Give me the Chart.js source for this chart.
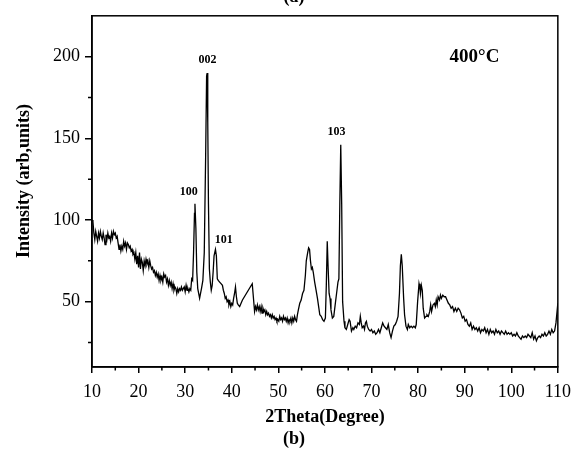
<!DOCTYPE html>
<html>
<head>
<meta charset="utf-8">
<title>XRD 400°C</title>
<script src="https://cdn.jsdelivr.net/npm/chart.js@4.4.1/dist/chart.umd.min.js"></script>
<style>
  html, body { margin: 0; padding: 0; background: #fff; }
  canvas { display: block; }
</style>
</head>
<body>
<canvas id="xrd" width="579" height="450"></canvas>
<script>
// 2theta positions (degree) and intensity
const twoTheta = [
  10.0, 10.2, 10.4, 10.6, 10.8, 11.0, 11.2, 11.4, 11.6, 11.8,
  12.0, 12.2, 12.4, 12.6, 12.8, 13.0, 13.2, 13.4, 13.6, 13.8,
  14.0, 14.2, 14.4, 14.6, 14.8, 15.0, 15.2, 15.4, 15.6, 15.8,
  16.0, 16.2, 16.4, 16.6, 16.8, 17.0, 17.2, 17.4, 17.6, 17.8,
  18.0, 18.2, 18.4, 18.6, 18.8, 19.0, 19.2, 19.4, 19.6, 19.8,
  20.0, 20.2, 20.4, 20.6, 20.8, 21.0, 21.2, 21.4, 21.6, 21.8,
  22.0, 22.2, 22.4, 22.6, 22.8, 23.0, 23.2, 23.4, 23.6, 23.8,
  24.0, 24.2, 24.4, 24.6, 24.8, 25.0, 25.2, 25.4, 25.6, 25.8,
  26.0, 26.2, 26.4, 26.6, 26.8, 27.0, 27.2, 27.4, 27.6, 27.8,
  28.0, 28.2, 28.4, 28.6, 28.8, 29.0, 29.2, 29.4, 29.6, 29.8,
  30.0, 30.2, 30.4, 30.6, 30.8, 31.0, 31.2, 31.4, 31.6, 31.8,
  32.0, 32.1, 32.3, 32.5, 32.7, 32.9, 33.1, 33.3, 33.5, 33.8,
  34.1, 34.4, 34.6, 34.7, 34.85, 35.0, 35.2, 35.4, 35.6, 35.8,
  36.0, 36.2, 36.5, 36.7, 36.9, 37.1, 37.4, 37.7, 38.0, 38.2,
  38.4, 38.6, 38.8, 39.0, 39.2, 39.4, 39.6, 39.8, 40.0, 40.2,
  40.4, 40.6, 40.8, 41.0, 41.2, 41.4, 41.7, 42.0, 42.3, 44.4,
  44.9, 45.1, 45.3, 45.5, 45.7, 45.9, 46.1, 46.3, 46.5, 46.7,
  46.9, 47.1, 47.3, 47.5, 47.7, 47.9, 48.1, 48.3, 48.5, 48.7,
  48.9, 49.1, 49.3, 49.5, 49.7, 49.9, 50.1, 50.3, 50.5, 50.7,
  50.9, 51.1, 51.3, 51.5, 51.7, 51.9, 52.1, 52.3, 52.5, 52.7,
  52.9, 53.1, 53.3, 53.5, 53.7, 53.9, 54.1, 54.3, 54.6, 54.9,
  55.2, 55.5, 55.8, 56.0, 56.3, 56.5, 56.7, 56.9, 57.1, 57.3,
  57.5, 57.8, 58.1, 58.4, 58.7, 58.9, 59.2, 59.5, 59.8, 60.1,
  60.3, 60.5, 60.7, 60.9, 61.1, 61.3, 61.6, 61.9, 62.2, 62.5,
  62.8, 63.0, 63.2, 63.4, 63.6, 63.8, 64.1, 64.3, 64.6, 64.9,
  65.2, 65.4, 65.7, 66.0, 66.2, 66.5, 66.8, 67.1, 67.4, 67.6,
  67.8, 68.0, 68.3, 68.5, 68.7, 68.9, 69.1, 69.4, 69.7, 70.0,
  70.3, 70.6, 70.9, 71.2, 71.5, 71.8, 72.1, 72.4, 72.7, 73.0,
  73.3, 73.6, 73.9, 74.2, 74.5, 74.8, 75.1, 75.4, 75.7, 76.0,
  76.2, 76.4, 76.6, 76.9, 77.1, 77.4, 77.7, 77.9, 78.2, 78.5,
  78.8, 79.1, 79.4, 79.6, 79.9, 80.2, 80.4, 80.5, 80.7, 80.9,
  81.1, 81.4, 81.7, 81.9, 82.2, 82.5, 82.7, 82.9, 83.2, 83.5,
  83.7, 83.9, 84.1, 84.3, 84.6, 84.8, 85.0, 85.3, 85.6, 85.9,
  86.2, 86.5, 86.8, 87.1, 87.4, 87.7, 88.0, 88.3, 88.6, 88.9,
  89.2, 89.5, 89.8, 90.1, 90.4, 90.7, 91.0, 91.3, 91.6, 91.9,
  92.2, 92.5, 92.8, 93.1, 93.4, 93.7, 94.0, 94.3, 94.6, 94.9,
  95.2, 95.5, 95.8, 96.1, 96.4, 96.7, 97.0, 97.3, 97.6, 97.9,
  98.2, 98.5, 98.8, 99.1, 99.4, 99.7, 100.0, 100.3, 100.6, 100.9,
  101.2, 101.5, 101.8, 102.1, 102.4, 102.7, 103.0, 103.3, 103.6, 103.9,
  104.2, 104.5, 104.8, 105.1, 105.4, 105.7, 106.0, 106.3, 106.6, 106.9,
  107.2, 107.5, 107.8, 108.1, 108.4, 108.7, 109.0, 109.3, 109.6, 110.0
];
const intensity = [
  100, 99, 92, 88, 93, 90, 87, 92, 89, 93,
  90, 88, 92, 89, 85, 91, 88, 92, 89, 90,
  87, 92, 89, 93, 91, 92, 89, 90, 86, 82,
  85, 81, 84, 82, 87, 84, 86, 82, 86, 85,
  83, 84, 81, 82, 79, 80, 76, 80, 73, 78,
  71, 80, 70, 76, 74, 69, 75, 72, 76, 73,
  75, 71, 75, 72, 70, 71, 68, 69, 66, 68,
  65, 67, 63, 66, 63, 65, 62, 67, 65, 66,
  62, 64, 60, 63, 60, 62, 58, 61, 57, 59,
  58, 55, 58, 56, 58, 57, 59, 57, 58, 59,
  56, 60, 57, 58, 56, 58, 57, 64, 63, 80,
  104, 110, 95, 68, 58, 55, 52, 55, 58, 63,
  80, 140, 188, 190, 160, 110, 70, 62, 57, 60,
  68, 78, 82, 78, 64, 63, 62, 61, 60, 57,
  55, 52, 53, 50, 51, 48, 50, 47, 49, 48,
  52, 55, 59, 53, 49, 48, 47, 49, 51, 61,
  44, 47, 45, 48, 45, 47, 44, 47, 43, 46,
  44, 45, 42, 44, 42, 43, 41, 42, 40, 42,
  40, 41, 39, 40, 38, 39, 38, 41, 39, 40,
  38, 41, 39, 40, 38, 40, 37, 39, 38, 40,
  37, 40, 38, 41, 39, 38, 42, 45, 49, 51,
  55, 57, 66, 75, 80, 83, 82, 75, 70, 71,
  68, 62, 57, 52, 46, 42, 41, 39, 38, 40,
  60, 87, 70, 55, 52, 45, 40, 41, 48, 55,
  62, 64, 110, 146, 110, 50, 38, 34, 33, 36,
  39, 38, 32, 34, 33, 35, 34, 37, 36, 41,
  37, 34, 35, 33, 37, 38, 35, 33, 32, 33,
  31, 32, 30, 31, 33, 31, 34, 37, 35, 34,
  33, 36, 31, 28, 32, 35, 36, 38, 41, 55,
  72, 79, 72, 52, 42, 35, 33, 36, 34, 35,
  34, 35, 34, 36, 50, 61, 58, 55, 60, 57,
  46, 40, 41, 42, 41, 44, 48, 44, 48, 49,
  47, 51, 48, 53, 51, 54, 52, 54, 53, 53,
  51, 49, 48, 46, 47, 44, 46, 44, 46, 45,
  43, 40, 41, 38, 39, 36, 35, 37, 33, 35,
  33, 34, 32, 34, 31, 33, 32, 34, 31, 33,
  30, 33, 31, 32, 30, 33, 31, 32, 30, 32,
  31, 30, 32, 30, 31, 30, 31, 29, 30, 29,
  31, 29, 28, 27, 29, 28, 29, 28, 30, 29,
  28, 31, 27, 29, 26, 28, 29, 28, 30, 29,
  31, 29, 30, 32, 30, 33, 31, 32, 37, 49
];

const xTicks = [10, 20, 30, 40, 50, 60, 70, 80, 90, 100, 110];
const xMinor = [15, 25, 35, 45, 55, 65, 75, 85, 95, 105];
const yTicks = [50, 100, 150, 200];
const yMinor = [25, 75, 125, 175];

// peak labels: [text, 2theta, intensity]
const peakLabels = [
  ['100', 30.75, 117],
  ['002', 34.8, 198],
  ['101', 38.3, 87.5],
  ['103', 62.5, 154]
];

const serif = '"Liberation Serif", "Times New Roman", serif';

const decor = {
  id: 'decor',
  beforeDraw(chart) {
    const ctx = chart.ctx;
    ctx.save();
    ctx.fillStyle = '#fff';
    ctx.fillRect(0, 0, chart.width, chart.height);
    ctx.restore();
  },
  afterDraw(chart) {
    const { ctx, chartArea: a, scales: { x, y } } = chart;
    ctx.save();
    ctx.strokeStyle = '#000';
    ctx.lineWidth = 1.5;
    ctx.strokeRect(a.left, a.top, a.right - a.left, a.bottom - a.top);

    // minor ticks
    ctx.beginPath();
    xMinor.forEach(v => {
      const px = x.getPixelForValue(v);
      ctx.moveTo(px, a.bottom);
      ctx.lineTo(px, a.bottom + 3.5);
    });
    yMinor.forEach(v => {
      const py = y.getPixelForValue(v);
      ctx.moveTo(a.left, py);
      ctx.lineTo(a.left - 4, py);
    });
    ctx.stroke();

    ctx.fillStyle = '#000';
    ctx.textAlign = 'center';
    ctx.textBaseline = 'middle';

    ctx.font = 'bold 12px ' + serif;
    peakLabels.forEach(([t, px, py]) => {
      ctx.fillText(t, x.getPixelForValue(px), y.getPixelForValue(py));
    });

    ctx.font = 'bold 19px ' + serif;
    ctx.fillText('400°C', x.getPixelForValue(92.1), y.getPixelForValue(200));

    ctx.font = 'bold 18px ' + serif;
    ctx.fillText('2Theta(Degree)', 325, 417);
    ctx.fillText('(b)', 294, 439);
    ctx.textBaseline = 'alphabetic';
    ctx.fillText('(a)', 294, 2);

    ctx.translate(24, 181);
    ctx.rotate(-Math.PI / 2);
    ctx.textBaseline = 'middle';
    ctx.fillText('Intensity (arb,units)', 0, 0);
    ctx.restore();
  }
};

new Chart(document.getElementById('xrd'), {
  type: 'line',
  data: {
    datasets: [{
      data: twoTheta.map((t, i) => ({ x: t, y: intensity[i] })),
      borderColor: '#000',
      borderWidth: 1.3,
      pointRadius: 0,
      tension: 0,
      fill: false
    }]
  },
  options: {
    responsive: false,
    animation: false,
    layout: { padding: { left: 0, right: 21, top: 12, bottom: 0 } },
    plugins: {
      legend: { display: false },
      tooltip: { enabled: false }
    },
    scales: {
      x: {
        type: 'linear',
        min: 10,
        max: 110,
        afterBuildTicks: s => { s.ticks = xTicks.map(v => ({ value: v })); },
        afterFit: s => { s.height = 83; },
        grid: { drawOnChartArea: false, color: '#000', lineWidth: 1.5, tickLength: 6 },
        border: { color: '#000', width: 1.5 },
        ticks: { color: '#000', padding: 8, maxRotation: 0, font: { family: serif, size: 18 } }
      },
      y: {
        min: 10,
        max: 225,
        afterBuildTicks: s => { s.ticks = yTicks.map(v => ({ value: v })); },
        afterFit: s => { s.width = 92; },
        grid: { drawOnChartArea: false, color: '#000', lineWidth: 1.5, tickLength: 7 },
        border: { color: '#000', width: 1.5 },
        ticks: { color: '#000', padding: 5, font: { family: serif, size: 18 } }
      }
    }
  },
  plugins: [decor]
});
</script>
</body>
</html>
